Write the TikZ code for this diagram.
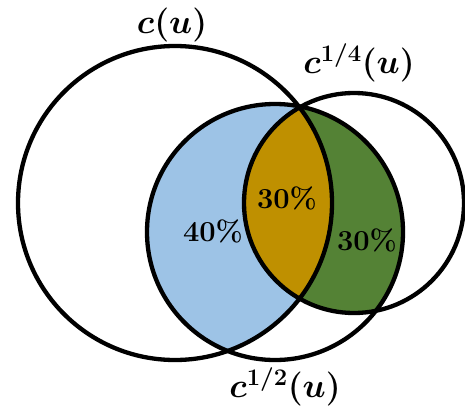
\RequirePackage{fix-cm}
\documentclass[tikz,border=0pt]{standalone}
\usepackage{amsmath,bm}
\usepackage{xcolor}
\usepackage{tikz}
\definecolor{shareblue}{HTML}{9DC3E6}
\definecolor{sharegold}{HTML}{BF9000}
\definecolor{sharegreen}{HTML}{548235}

\begin{document}
\begin{tikzpicture}[x=1pt,y=-1pt,
  ring/.style={line width=4.3pt},
  share/.style={font=\fontsize{29}{32}\selectfont\bfseries},
  setname/.style={font=\fontsize{34}{38}\selectfont\boldmath}]
  \useasboundingbox (0,0) rectangle (465,415);

  % --- centres of the three sets ---
  \coordinate (full) at (175,203);
  \coordinate (half) at (275,232);
  \coordinate (quarter) at (354,203);

  % --- shaded overlaps ---
  \begin{scope}
    \clip (full) circle (157pt);
    \fill[shareblue] (half) circle (128pt);
  \end{scope}
  \begin{scope}
    \clip (quarter) circle (110pt);
    \fill[sharegreen] (half) circle (128pt);
  \end{scope}
  \begin{scope}
    \clip (full) circle (157pt);
    \clip (quarter) circle (110pt);
    \fill[sharegold] (half) circle (128pt);
  \end{scope}

  % --- outlines ---
  \draw[ring] (full) circle (157pt);
  \draw[ring] (half) circle (128pt);
  \draw[ring] (quarter) circle (110pt);

  % --- labels ---
  \node[setname] (cfull) at (172,25) {$c(u)$};
  \node[setname] (cquarter) at (359,63) {$c^{1/4}(u)$};
  \node[setname] (chalf) at (285,387) {$c^{1/2}(u)$};
  \node[share] (pblue) at (213,231) {40\%};
  \node[share] (pgold) at (287,198) {30\%};
  \node[share] (pgreen) at (367,240) {30\%};
\end{tikzpicture}
\end{document}
